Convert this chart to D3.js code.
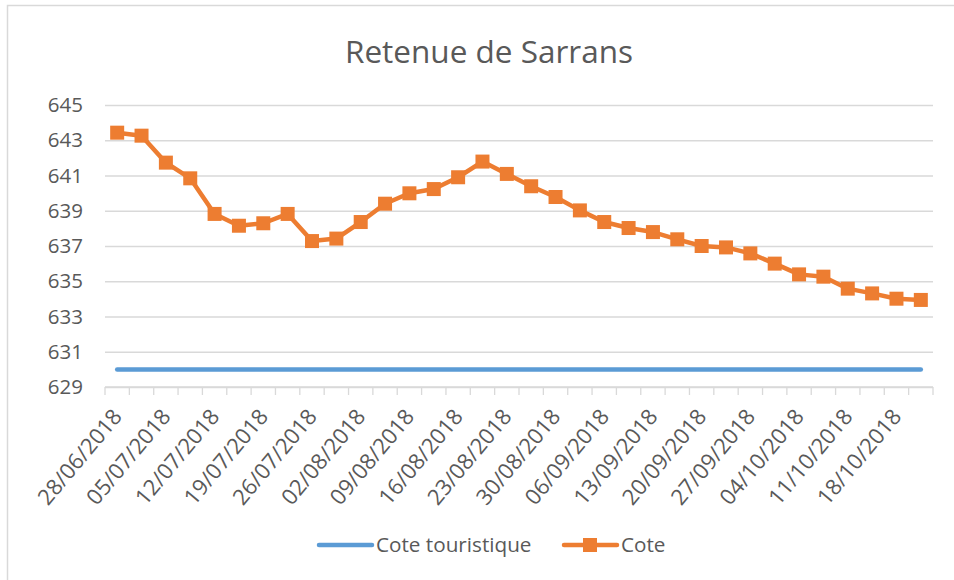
<!DOCTYPE html>
<html>
<head>
<meta charset="utf-8">
<script src="https://cdn.jsdelivr.net/npm/d3@7"></script>
<style>
  body { margin: 0; background: #fff; }
  text { font-family: "Open Sans", sans-serif; fill: #595959; }
</style>
</head>
<body>
<div id="chart"></div>
<script>
// Data
const dates = [
  "28/06/2018", "02/07/2018", "05/07/2018", "09/07/2018", "12/07/2018", "16/07/2018",
  "19/07/2018", "23/07/2018", "26/07/2018", "30/07/2018", "02/08/2018", "06/08/2018",
  "09/08/2018", "13/08/2018", "16/08/2018", "20/08/2018", "23/08/2018", "27/08/2018",
  "30/08/2018", "03/09/2018", "06/09/2018", "10/09/2018", "13/09/2018", "17/09/2018",
  "20/09/2018", "24/09/2018", "27/09/2018", "01/10/2018", "04/10/2018", "08/10/2018",
  "11/10/2018", "15/10/2018", "18/10/2018", "22/10/2018"
];
const cote = [
  643.43, 643.26, 641.73, 640.84, 638.82, 638.15, 638.29, 638.82, 637.28, 637.42,
  638.36, 639.40, 639.99, 640.23, 640.90, 641.79, 641.09, 640.39, 639.78, 639.02,
  638.36, 638.02, 637.79, 637.38, 637.00, 636.92, 636.58, 636.00, 635.39, 635.26,
  634.58, 634.31, 634.01, 633.94
];
const coteTouristique = dates.map(() => 630);
const yTicks = [629, 631, 633, 635, 637, 639, 641, 643, 645];
const seriesNames = ["Cote touristique", "Cote"];

const width = 954, height = 580;
const margin = { top: 105, right: 21, bottom: 193, left: 105 };
const orange = "#ED7D31", blue = "#5B9BD5", grid = "#d9d9d9";

const svg = d3.select("#chart").append("svg")
  .attr("width", width)
  .attr("height", height);

// Chart area border
svg.append("rect")
  .attr("x", 7.5).attr("y", 5.5)
  .attr("width", 980).attr("height", 620)
  .attr("fill", "#fff")
  .attr("stroke", "#d9d9d9")
  .attr("stroke-width", 1.5);

const x = d3.scaleBand()
  .domain(dates)
  .range([margin.left, width - margin.right])
  .paddingInner(0).paddingOuter(0);

const y = d3.scaleLinear()
  .domain([629, 645])
  .range([height - margin.bottom, margin.top]);

// Title
svg.append("text")
  .attr("x", 489)
  .attr("y", 63)
  .attr("text-anchor", "middle")
  .attr("font-size", 31.5)
  .text("Retenue de Sarrans");

// Gridlines + y labels
svg.append("g")
  .attr("transform", `translate(${margin.left},0)`)
  .call(d3.axisLeft(y).tickValues(yTicks).tickSize(-(width - margin.left - margin.right)).tickPadding(22).tickFormat(d3.format("d")))
  .call(g => g.select(".domain").remove())
  .call(g => g.selectAll(".tick line").attr("stroke", grid).attr("stroke-width", 1.3))
  .call(g => g.selectAll(".tick text").attr("font-size", 20.5).attr("fill", "#595959"));

// X axis line and boundary tick marks
const xAxisY = y(629);
const bounds = dates.map(d => x(d)).concat([x.range()[1]]);
const xg = svg.append("g");
xg.append("line")
  .attr("x1", x.range()[0]).attr("x2", x.range()[1])
  .attr("y1", xAxisY).attr("y2", xAxisY)
  .attr("stroke", grid).attr("stroke-width", 1.3);
xg.selectAll("line.tk")
  .data(bounds)
  .join("line")
  .attr("class", "tk")
  .attr("x1", d => d).attr("x2", d => d)
  .attr("y1", xAxisY).attr("y2", xAxisY + 8)
  .attr("stroke", grid).attr("stroke-width", 1.3);

// X labels every second category
xg.selectAll("text")
  .data(dates.filter((d, i) => i % 2 === 0))
  .join("text")
  .attr("text-anchor", "end")
  .attr("font-size", 22)
  .attr("transform", d => `translate(${x(d) + x.bandwidth() / 2 + 6},${xAxisY + 30}) rotate(-50)`)
  .text(d => d);

const cx = d => x(d) + x.bandwidth() / 2;

// Cote touristique
svg.append("path")
  .datum(coteTouristique)
  .attr("fill", "none")
  .attr("stroke", blue)
  .attr("stroke-width", 4.5)
  .attr("stroke-linecap", "round")
  .attr("d", d3.line().x((d, i) => cx(dates[i])).y(d => y(d)));

// Cote
svg.append("path")
  .datum(cote)
  .attr("fill", "none")
  .attr("stroke", orange)
  .attr("stroke-width", 4.5)
  .attr("stroke-linejoin", "round")
  .attr("d", d3.line().x((d, i) => cx(dates[i])).y(d => y(d)));

const ms = 14;
svg.append("g")
  .selectAll("rect")
  .data(cote)
  .join("rect")
  .attr("x", (d, i) => cx(dates[i]) - ms / 2)
  .attr("y", d => y(d) - ms / 2)
  .attr("width", ms).attr("height", ms)
  .attr("fill", orange);

// Legend
const legendY = 545;
const lg = svg.append("g");
lg.append("line")
  .attr("x1", 319).attr("x2", 372)
  .attr("y1", legendY).attr("y2", legendY)
  .attr("stroke", blue).attr("stroke-width", 4.5).attr("stroke-linecap", "round");
lg.append("text")
  .attr("x", 376).attr("y", legendY).attr("dy", "0.35em")
  .attr("font-size", 20.7)
  .text(seriesNames[0]);
lg.append("line")
  .attr("x1", 564).attr("x2", 617)
  .attr("y1", legendY).attr("y2", legendY)
  .attr("stroke", orange).attr("stroke-width", 4.5).attr("stroke-linecap", "round");
lg.append("rect")
  .attr("x", 590 - ms / 2).attr("y", legendY - ms / 2)
  .attr("width", ms).attr("height", ms)
  .attr("fill", orange);
lg.append("text")
  .attr("x", 621).attr("y", legendY).attr("dy", "0.35em")
  .attr("font-size", 20.7)
  .text(seriesNames[1]);
</script>
</body>
</html>
